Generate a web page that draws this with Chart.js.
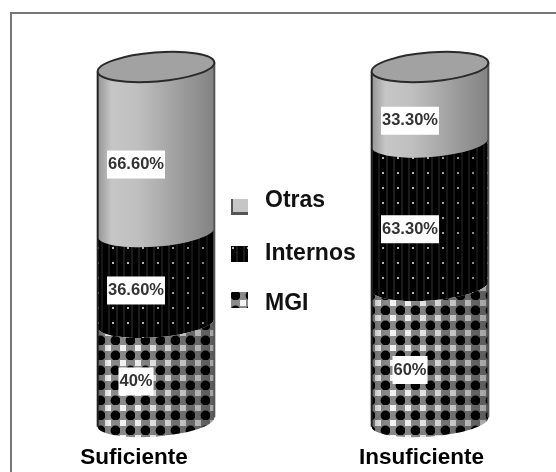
<!DOCTYPE html>
<html>
<head>
<meta charset="utf-8">
<title>Suficiente / Insuficiente</title>
<style>
  html, body { margin: 0; padding: 0; background: #fff; }
  canvas { display: block; }
</style>
<script src="https://cdn.jsdelivr.net/npm/chart.js@4/dist/chart.umd.min.js"></script>
</head>
<body>
<canvas id="chart" width="556" height="472"></canvas>
<script>
  'use strict';

  // Data.
  var categories = ['Suficiente', 'Insuficiente'];
  var seriesNames = ['MGI', 'Internos', 'Otras'];
  var mgi = [40, 60];
  var internos = [36.6, 63.3];
  var otras = [66.6, 33.3];

  // Layout tweaks, in pixels.
  var categoryShift = [-22, -8.5];
  var labelShiftX = -20;
  var labelShiftY = [[9, 16], [13, 15], [15, 16]];
  var legendRows = [207, 254, 300];
  var legendTextRows = [201, 254, 304];

  var FONT = '"Liberation Sans", Arial, sans-serif';
  var TILT = -0.08;
  var RY = 14.5;

  // Every column fills the full height, whatever its total.
  function toShares(values) {
    return values.map(function (v, i) {
      return v / (mgi[i] + internos[i] + otras[i]);
    });
  }

  function percent(v) {
    return (Number.isInteger(v) ? v : v.toFixed(2)) + '%';
  }

  function tile(paint) {
    var c = document.createElement('canvas');
    c.width = 15;
    c.height = 15;
    paint(c.getContext('2d'));
    return document.createElement('canvas').getContext('2d').createPattern(c, 'repeat');
  }

  var internosFill = tile(function (t) {
    t.fillStyle = '#000';
    t.fillRect(0, 0, 15, 15);
    t.fillStyle = '#1c1c1c';
    t.fillRect(3, 0, 2, 15);
    t.fillRect(11, 0, 2, 15);
    t.fillStyle = '#bdbdbd';
    t.fillRect(7, 7, 2, 2);
  });

  var mgiFill = tile(function (t) {
    t.fillStyle = '#8a8a8a';
    t.fillRect(0, 0, 15, 15);
    t.fillStyle = '#f4f4f4';
    t.fillRect(0, 0, 6, 6);
    t.fillStyle = '#000';
    t.beginPath();
    t.arc(10.5, 10.5, 4.9, 0, Math.PI * 2);
    t.fill();
  });

  var fills = [mgiFill, internosFill, '#c6c6c6'];

  // Bar element drawn as one section of a tilted cylinder.
  class CylinderElement extends Chart.BarElement {
    draw(ctx) {
      var p = this.getProps(['x', 'y', 'base', 'width']);
      var rx = p.width / 2;
      ctx.save();
      ctx.beginPath();
      ctx.ellipse(p.x, p.y, rx, RY, TILT, Math.PI, 0, true);
      ctx.ellipse(p.x, p.base, rx, RY, TILT, 0, Math.PI, false);
      ctx.closePath();
      ctx.fillStyle = this.options.backgroundColor;
      ctx.fill();

      // Round shading across the column.
      var shade = ctx.createLinearGradient(p.x - rx, 0, p.x + rx, 0);
      shade.addColorStop(0, '#c0c0c0');
      shade.addColorStop(0.12, '#ffffff');
      shade.addColorStop(0.35, '#f6f6f6');
      shade.addColorStop(1, '#a8a8a8');
      ctx.globalCompositeOperation = 'multiply';
      ctx.fillStyle = shade;
      ctx.fill();
      ctx.restore();
    }
  }
  CylinderElement.id = 'cylinder';
  CylinderElement.defaults = Chart.BarElement.defaults;

  class CylinderController extends Chart.BarController {}
  CylinderController.id = 'cylinder';
  CylinderController.defaults = Object.assign({}, Chart.BarController.defaults, {
    dataElementType: 'cylinder'
  });
  CylinderController.overrides = Chart.BarController.overrides;

  Chart.register(CylinderElement, CylinderController);

  var decorations = {
    id: 'decorations',

    beforeDraw: function (chart) {
      // Frame: only top and left edges are in the picture.
      var ctx = chart.ctx;
      ctx.fillStyle = '#777';
      ctx.fillRect(10, 12, 546, 2);
      ctx.fillRect(10, 12, 2, 460);
    },

    afterDatasetsDraw: function (chart) {
      var ctx = chart.ctx;
      var top = chart.getDatasetMeta(seriesNames.length - 1).data;
      var bottom = chart.getDatasetMeta(0).data;

      top.forEach(function (bar, i) {
        var rx = bar.width / 2;
        var dx = rx * Math.cos(TILT);
        var dy = rx * Math.sin(TILT);

        // Side edges.
        ctx.lineWidth = 2;
        ctx.strokeStyle = '#222';
        ctx.beginPath();
        ctx.moveTo(bar.x - dx, bar.y - dy);
        ctx.lineTo(bar.x - dx, bottom[i].base - dy);
        ctx.stroke();
        ctx.strokeStyle = '#555';
        ctx.beginPath();
        ctx.moveTo(bar.x + dx, bar.y + dy);
        ctx.lineTo(bar.x + dx, bottom[i].base + dy);
        ctx.stroke();

        // Cap.
        ctx.beginPath();
        ctx.ellipse(bar.x, bar.y, rx, RY, TILT, 0, Math.PI * 2);
        ctx.fillStyle = '#a2a2a2';
        ctx.fill();
        ctx.strokeStyle = '#2a2a2a';
        ctx.stroke();
      });

      // Value boxes.
      ctx.font = 'bold 16.5px ' + FONT;
      ctx.textAlign = 'center';
      ctx.textBaseline = 'middle';
      chart.data.datasets.forEach(function (set, d) {
        chart.getDatasetMeta(d).data.forEach(function (bar, i) {
          var text = percent(set.raw[i]);
          var x = bar.x + labelShiftX;
          var y = (bar.y + bar.base) / 2 + labelShiftY[d][i];
          var w = ctx.measureText(text).width + 2;
          ctx.fillStyle = '#fff';
          ctx.fillRect(x - w / 2, y - 14, w, 28);
          ctx.fillStyle = '#333';
          ctx.fillText(text, x, y);
        });
      });

      // Category names.
      var scale = chart.scales.x;
      ctx.font = 'bold 22.5px ' + FONT;
      ctx.fillStyle = '#000';
      categories.forEach(function (name, i) {
        ctx.fillText(name, scale.getPixelForValue(i) + categoryShift[i], 458);
      });

      // Legend, top series first.
      ctx.textAlign = 'left';
      chart.data.datasets.slice().reverse().forEach(function (set, r) {
        var y = legendRows[r];
        ctx.fillStyle = set.backgroundColor;
        ctx.fillRect(231, y - 8, 17, 16);
        if (r === 0) {
          ctx.fillStyle = '#555';
          ctx.fillRect(231, y + 5, 17, 3);
          ctx.fillRect(231, y - 8, 2, 16);
        }
        ctx.font = 'bold 23px ' + FONT;
        ctx.fillStyle = '#111';
        ctx.fillText(set.label, 265, legendTextRows[r]);
      });
    }
  };

  var seriesValues = [mgi, internos, otras];

  new Chart(document.getElementById('chart'), {
    type: 'cylinder',
    data: {
      labels: categories,
      datasets: seriesValues.map(function (values, d) {
        return {
          label: seriesNames[d],
          data: toShares(values),
          raw: values,
          backgroundColor: fills[d],
          barThickness: 117,
          clip: false
        };
      })
    },
    options: {
      responsive: false,
      animation: false,
      layout: {
        padding: { left: 148, right: 126, top: 67, bottom: 42 }
      },
      plugins: {
        legend: { display: false },
        tooltip: { enabled: false }
      },
      scales: {
        x: {
          type: 'category',
          offset: false,
          stacked: true,
          grid: { display: false },
          border: { display: false },
          ticks: { display: false }
        },
        y: {
          stacked: true,
          min: 0,
          max: 1,
          grid: { display: false },
          border: { display: false },
          ticks: { display: false }
        }
      }
    },
    plugins: [decorations]
  });
</script>
</body>
</html>
